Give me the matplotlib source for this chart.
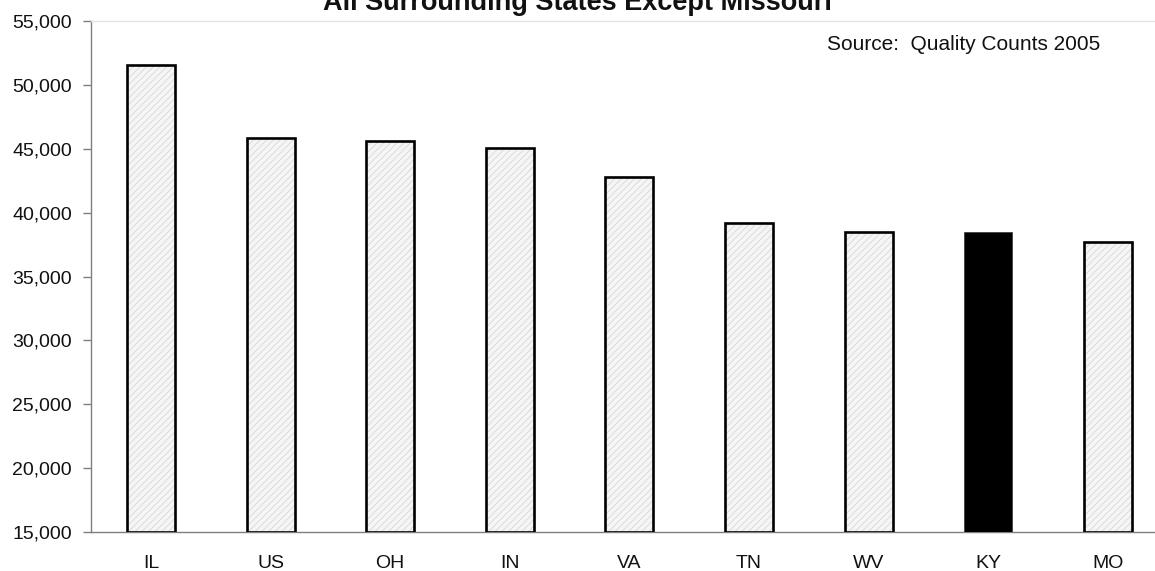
import matplotlib
matplotlib.use("Agg")
import matplotlib.pyplot as plt
from matplotlib.ticker import FuncFormatter

plt.rcParams['font.family'] = ['Liberation Sans', 'DejaVu Sans']
plt.rcParams['hatch.linewidth'] = 0.5

states = ["IL", "US", "OH", "IN", "VA", "TN", "WV", "KY", "MO"]
salaries = [51560, 45850, 45620, 45050, 42820, 39220, 38510, 38520, 37680]
highlight = "KY"

title_text = "All Surrounding States Except Missouri"
source_text = "Source:  Quality Counts 2005"
y_ticks = [15000, 20000, 25000, 30000, 35000, 40000, 45000, 50000, 55000]

W, H = 1155, 571
fig = plt.figure(figsize=(W / 100, H / 100), dpi=100)
left_px, right_px, top_px, bottom_px = 91.2, 1155, 21, 532
ax = fig.add_axes([left_px / W, (H - bottom_px) / H,
                   (right_px - left_px) / W, (bottom_px - top_px) / H])

x = list(range(len(states)))
base = 15000
for xi, st, val in zip(x, states, salaries):
    if st == highlight:
        ax.bar(xi, val - base, bottom=base, width=0.4, color='black',
               edgecolor='#404040', linewidth=0.6, zorder=3)
    else:
        # light fine hatch fill, then a black outline on top
        ax.bar(xi, val - base, bottom=base, width=0.4, color='#f5f5f5',
               edgecolor='#d2d2d2', linewidth=0, hatch='/////', zorder=3)
        ax.bar(xi, val - base, bottom=base, width=0.4, fill=False,
               edgecolor='black', linewidth=1.9, zorder=4)

slot_px = 119.6
ax.set_xlim(-0.5, -0.5 + (right_px - left_px) / slot_px)
ax.set_ylim(15000, 55000)
ax.set_xticks(x)
ax.set_xticklabels(states)
ax.set_yticks(y_ticks)
ax.yaxis.set_major_formatter(FuncFormatter(lambda v, p: f"{int(v):,}"))

ax.spines['right'].set_visible(False)
ax.spines['top'].set_color('#e4e4e4')
ax.spines['top'].set_linewidth(1.0)
ax.spines['left'].set_color('#7f7f7f')
ax.spines['bottom'].set_color('#7f7f7f')
ax.spines['left'].set_linewidth(1.0)
ax.spines['bottom'].set_linewidth(1.0)

ax.tick_params(axis='y', direction='out', length=6, width=1.0, color='#7f7f7f',
               labelsize=14, pad=8, labelcolor='#111111')
ax.tick_params(axis='x', length=0, labelsize=14, pad=16.5, labelcolor='#111111')

fig.text(577 / W, 1 - 10 / H, title_text, ha='center', va='baseline',
         fontsize=19.5, fontweight='bold', color='#111111')
fig.text(1100 / W, 1 - 45 / H, source_text, ha='right', va='center',
         fontsize=15, color='#111111')

fig.savefig("out.png", dpi=100)
